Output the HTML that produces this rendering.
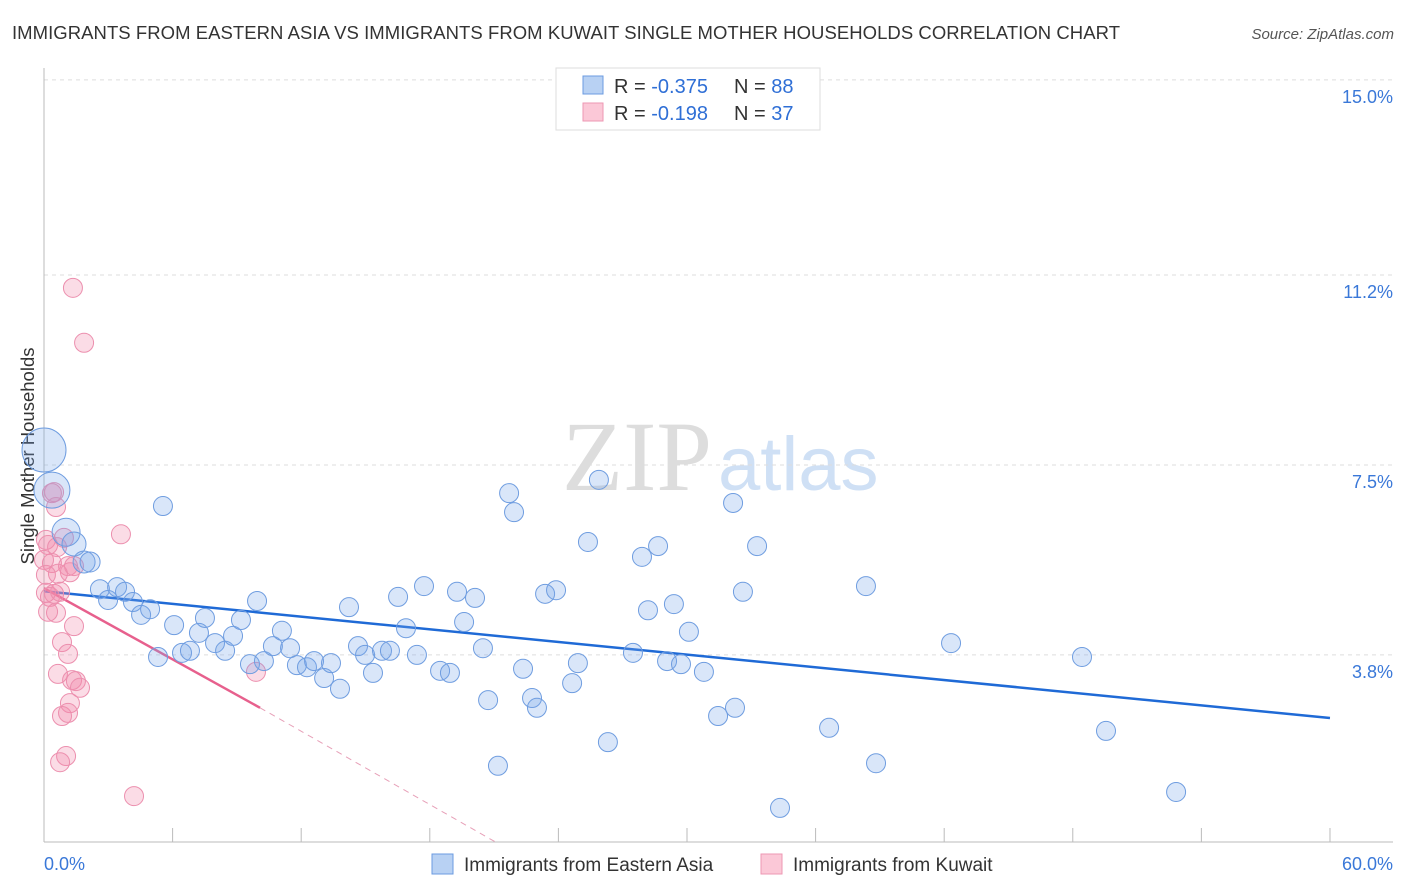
<!DOCTYPE html>
<html><head><meta charset="utf-8"><style>
body{margin:0;background:#fff;font-family:"Liberation Sans",sans-serif;}
svg{display:block}
</style></head><body>
<svg id="chart" width="1406" height="892">
<text x="12" y="39" font-size="18.5" fill="#333" textLength="1108">IMMIGRANTS FROM EASTERN ASIA VS IMMIGRANTS FROM KUWAIT SINGLE MOTHER HOUSEHOLDS CORRELATION CHART</text>
<text x="1394" y="39" font-size="15" fill="#555" font-style="italic" text-anchor="end">Source: ZipAtlas.com</text>
<text transform="translate(34,456) rotate(-90)" font-size="18.5" fill="#333" text-anchor="middle">Single Mother Households</text>
<g><text x="712" y="490" font-size="100" font-family="Liberation Serif,serif" fill="#ddd" text-anchor="end">ZIP</text><text x="718" y="490" font-size="76" fill="#cfe0f5">atlas</text></g>
<g id="grid"></g><g id="axes"></g><g id="trends"></g><g id="pts"></g>
<g>
<rect x="556" y="68" width="264" height="62" fill="#fff" stroke="#ddd"/>
<rect x="583" y="76" width="20" height="18" fill="#b8d1f3" stroke="#6b9be0"/>
<rect x="583" y="103" width="20" height="18" fill="#fbc8d7" stroke="#ee97b3"/>
<text x="614" y="93" font-size="20" fill="#333">R = <tspan fill="#2f6fd6">-0.375</tspan><tspan x="734">N = </tspan><tspan fill="#2f6fd6">88</tspan></text>
<text x="614" y="120" font-size="20" fill="#333">R = <tspan fill="#2f6fd6"> -0.198</tspan><tspan x="734">N = </tspan><tspan fill="#2f6fd6">37</tspan></text>
</g>
<g>
<rect x="432" y="854" width="21" height="20" fill="#b8d1f3" stroke="#6b9be0"/>
<text x="464" y="871" font-size="19" fill="#333">Immigrants from Eastern Asia</text>
<rect x="761" y="854" width="21" height="20" fill="#fbc8d7" stroke="#ee97b3"/>
<text x="793" y="871" font-size="19" fill="#333">Immigrants from Kuwait</text>
</g>
</svg>
<script>
const yTicks=[3.8,7.5,11.2,15.0];
const yTickLabels=["3.8%","7.5%","11.2%","15.0%"];
const xTicks=[0,6,12,18,24,30,36,42,48,54,60];
const blueX=[0,0.37,1.03,1.40,1.87,2.15,2.61,2.99,3.41,3.78,4.15,4.53,4.95,5.55,5.32,6.07,6.44,6.81,7.23,7.51,7.98,8.45,8.82,9.19,9.61,9.94,10.26,10.68,11.10,11.48,11.80,12.27,12.60,13.07,13.39,13.81,14.23,14.65,14.98,15.35,15.77,16.14,16.52,16.89,17.40,17.73,18.48,18.94,19.27,19.60,20.11,20.48,20.72,21.18,21.70,21.93,22.35,22.77,23.00,23.38,23.89,24.64,24.91,25.38,25.89,26.31,27.48,27.90,28.18,28.65,29.07,29.39,29.72,30.09,30.79,31.45,32.15,32.24,32.61,33.27,34.34,36.63,38.35,38.82,42.32,48.43,49.55,52.82];
const blueY=[7.79,7.01,6.19,5.96,5.61,5.61,5.08,4.87,5.12,5.03,4.83,4.58,4.69,6.70,3.76,4.38,3.84,3.88,4.23,4.52,4.03,3.88,4.17,4.48,3.62,4.85,3.68,3.97,4.27,3.93,3.60,3.56,3.68,3.35,3.64,3.14,4.73,3.97,3.80,3.45,3.88,3.88,4.93,4.32,3.80,5.14,3.49,3.45,5.03,4.44,4.91,3.93,2.92,1.64,6.95,6.58,3.53,2.96,2.77,4.99,5.06,3.25,3.64,6.00,7.21,2.10,3.84,5.71,4.67,5.92,3.68,4.79,3.62,4.25,3.47,2.61,6.76,2.77,5.03,5.92,0.82,2.38,5.14,1.69,4.03,3.76,2.32,1.13];
const blueR=[22,18,14,12,11,10];
const pinkX=[1.35,1.87,3.59,0.47,0.37,0.56,0.09,0.19,0.61,0.93,0.37,1.12,1.21,0.65,1.40,0.09,0.28,0.47,0.56,0.19,1.40,0.84,1.12,0.65,1.31,1.49,1.68,1.21,0.84,1.12,1.03,0.75,4.20,9.89,0,0.09,0.75];
const pinkY=[10.95,9.88,6.15,6.97,6.95,6.68,6.04,5.94,5.90,6.08,5.59,5.53,5.41,5.38,5.53,5.01,4.93,4.99,4.62,4.64,4.36,4.05,3.82,3.43,3.31,3.29,3.16,2.86,2.61,2.67,1.83,1.71,1.05,3.47,5.65,5.36,5.03];
const blueTrend=[5.04,2.57];
const pinkTrend=[5.10,2.77,0.16];
const pinkTrendX=[0,10.08,21.05];
const NS="http://www.w3.org/2000/svg";
const X=v=>44+v*21.433, Y=v=>850-v*51.34;
function mk(tag,attrs,parent){const e=document.createElementNS(NS,tag);for(const k in attrs)e.setAttribute(k,attrs[k]);document.getElementById(parent).appendChild(e);return e;}
yTicks.forEach((t,i)=>{
 const l=mk('line',{x1:44,x2:1393,y1:Y(t),y2:Y(t),stroke:'#ddd','stroke-dasharray':'4,4'},'grid');
 
 
 const tx=mk('text',{x:1393,y:Y(t)+23,'font-size':18,fill:'#3a78d8','text-anchor':'end'},'grid');
 tx.textContent=yTickLabels[i];
 
 
});
const ya=mk('line',{x1:44,x2:44,y1:68,y2:842,stroke:'#bbb'},'axes');


const xa=mk('line',{x1:44,x2:1393,y1:842,y2:842,stroke:'#bbb'},'axes');


xTicks.forEach(t=>{const l=mk('line',{x1:X(t),x2:X(t),y1:828,y2:842,stroke:'#bbb'},'axes');
 
 });
const x0=mk('text',{x:44,y:870,'font-size':18,fill:'#3a78d8'},'axes');x0.textContent=xTicks[0].toFixed(1)+'%';


const x1=mk('text',{x:1393,y:870,'font-size':18,fill:'#3a78d8','text-anchor':'end'},'axes');x1.textContent=xTicks[xTicks.length-1].toFixed(1)+'%';


pinkX.forEach((v,i)=>{const c=mk('circle',{cx:X(v),cy:Y(pinkY[i]),r:9.5,fill:'rgba(242,140,172,0.3)',stroke:'#ec8fae','stroke-width':1},'pts');
 
 });
blueX.forEach((v,i)=>{const c=mk('circle',{cx:X(v),cy:Y(blueY[i]),r:blueR[i]||9.5,fill:'rgba(120,165,232,0.28)',stroke:'#6f9de0','stroke-width':1},'pts');
 
 });
const bt=mk('line',{x1:X(0),y1:Y(blueTrend[0]),x2:X(60),y2:Y(blueTrend[1]),stroke:'#1f6ad6','stroke-width':2.5},'trends');


const pt=mk('line',{x1:X(pinkTrendX[0]),y1:Y(pinkTrend[0]),x2:X(pinkTrendX[1]),y2:Y(pinkTrend[1]),stroke:'#e7608d','stroke-width':2.5},'trends');


const pd=mk('line',{x1:X(pinkTrendX[1]),y1:Y(pinkTrend[1]),x2:X(pinkTrendX[2]),y2:Y(pinkTrend[2]),stroke:'#e7a0b8','stroke-width':1,'stroke-dasharray':'6,5'},'trends');


</script>
</body></html>
